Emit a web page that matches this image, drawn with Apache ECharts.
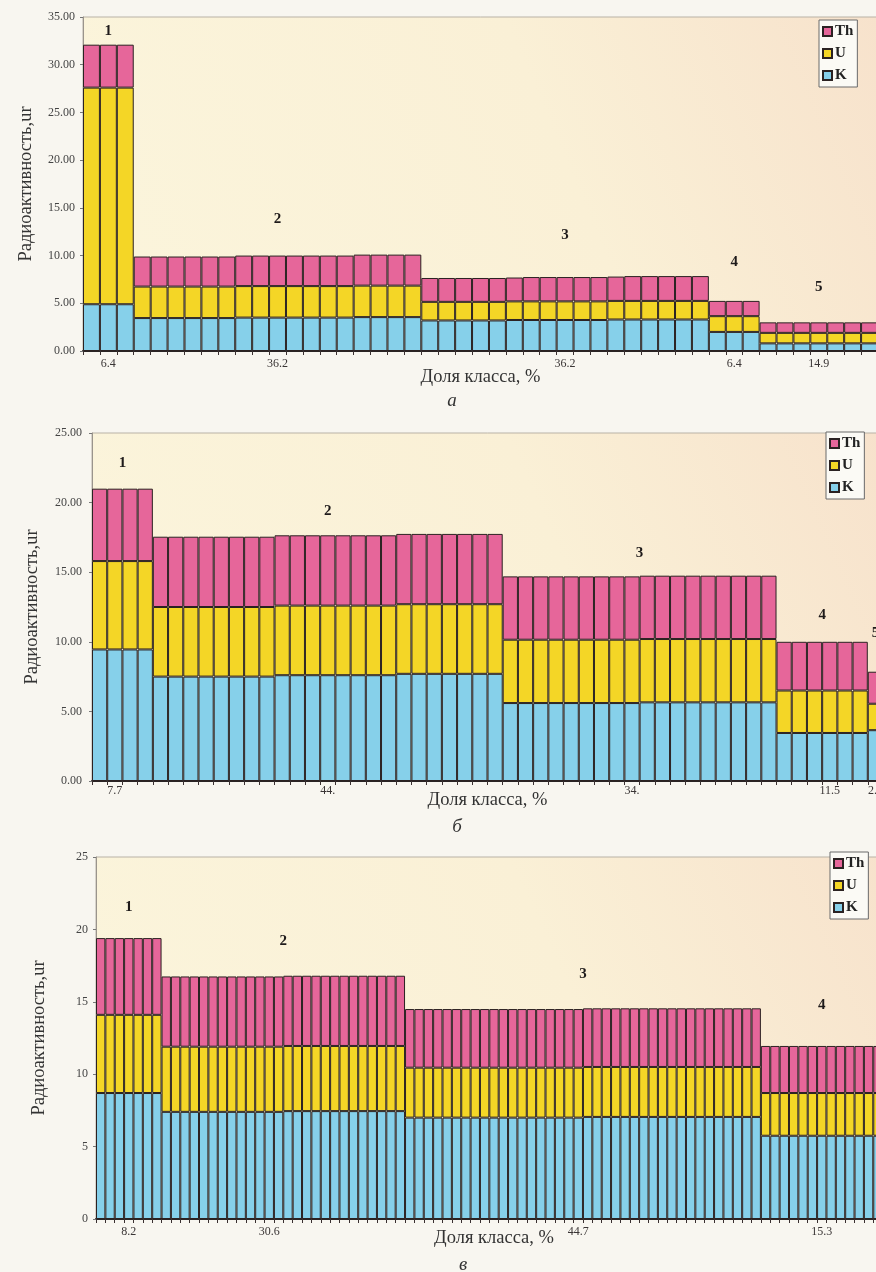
<!DOCTYPE html>
<html><head><meta charset="utf-8">
<script src="https://cdn.jsdelivr.net/npm/echarts@6/dist/echarts.min.js"></script>
<style>
html,body{margin:0;padding:0;background:#f8f6f0;overflow:hidden;width:876px;height:1272px}
#chart{width:900px;height:1272px}
</style></head>
<body><div id="chart"></div>
<script>
// ---------- DATA ----------
const seriesNames = ['Th', 'U', 'K'];
const yAxisTitle = 'Радиоактивность,ur';
const xAxisTitle = 'Доля класса, %';

// Panel а
const classesA = ['1', '2', '3', '4', '5'];
const countsA = [3, 17, 17, 3, 7];
const shareLabelsA = ['6.4', '36.2', '36.2', '6.4', '14.9'];
const shareLabelAtA = [1, 8, 8, 1, 3];
const kA = [4.9,4.9,4.9,
  3.45,3.45,3.45,3.45,3.45,3.45,3.5,3.5,3.5,3.5,3.5,3.5,3.5,3.55,3.55,3.55,3.55,
  3.2,3.2,3.2,3.2,3.2,3.25,3.25,3.25,3.25,3.25,3.25,3.3,3.3,3.3,3.3,3.3,3.3,
  2.0,2.0,2.0,
  0.8,0.8,0.8,0.8,0.8,0.8,0.8];
const uA = [22.7,22.7,22.7,
  3.3,3.3,3.3,3.3,3.3,3.3,3.3,3.3,3.3,3.3,3.3,3.3,3.3,3.3,3.3,3.3,3.3,
  1.95,1.95,1.95,1.95,1.95,1.95,1.95,1.95,1.95,1.95,1.95,1.95,1.95,1.95,1.95,1.95,1.95,
  1.65,1.65,1.65,
  1.1,1.1,1.1,1.1,1.1,1.1,1.1];
const thA = [4.5,4.5,4.5,
  3.15,3.15,3.15,3.15,3.15,3.15,3.2,3.2,3.2,3.2,3.2,3.2,3.2,3.25,3.25,3.25,3.25,
  2.5,2.5,2.5,2.5,2.5,2.5,2.55,2.55,2.55,2.55,2.55,2.55,2.6,2.6,2.6,2.6,2.6,
  1.6,1.6,1.6,
  1.1,1.1,1.1,1.1,1.1,1.1,1.1];

// Panel б
const classesB = ['1', '2', '3', '4', '5'];
const countsB = [4, 23, 18, 6, 1];
const shareLabelsB = ['7.7', '44.', '34.', '11.5', '2.1'];
const shareLabelAtB = [1, 11, 8, 3, 0];
const kB = [9.45,9.45,9.45,9.45,
  7.5,7.5,7.5,7.5,7.5,7.5,7.5,7.5,7.6,7.6,7.6,7.6,7.6,7.6,7.6,7.6,7.7,7.7,7.7,7.7,7.7,7.7,7.7,
  5.6,5.6,5.6,5.6,5.6,5.6,5.6,5.6,5.6,5.65,5.65,5.65,5.65,5.65,5.65,5.65,5.65,5.65,
  3.45,3.45,3.45,3.45,3.45,3.45,
  3.65];
const uB = [6.35,6.35,6.35,6.35,
  5.0,5.0,5.0,5.0,5.0,5.0,5.0,5.0,5.0,5.0,5.0,5.0,5.0,5.0,5.0,5.0,5.0,5.0,5.0,5.0,5.0,5.0,5.0,
  4.55,4.55,4.55,4.55,4.55,4.55,4.55,4.55,4.55,4.55,4.55,4.55,4.55,4.55,4.55,4.55,4.55,4.55,
  3.05,3.05,3.05,3.05,3.05,3.05,
  1.9];
const thB = [5.2,5.2,5.2,5.2,
  5.05,5.05,5.05,5.05,5.05,5.05,5.05,5.05,5.05,5.05,5.05,5.05,5.05,5.05,5.05,5.05,5.05,5.05,5.05,5.05,5.05,5.05,5.05,
  4.55,4.55,4.55,4.55,4.55,4.55,4.55,4.55,4.55,4.55,4.55,4.55,4.55,4.55,4.55,4.55,4.55,4.55,
  3.5,3.5,3.5,3.5,3.5,3.5,
  2.3];

// Panel в
const classesC = ['1', '2', '3', '4', '5'];
const countsC = [7, 26, 38, 13, 1];
const shareLabelsC = ['8.2', '30.6', '44.7', '15.3', '1.2'];
const shareLabelAtC = [3, 11, 18, 6, 0];
const kC = [8.7,8.7,8.7,8.7,8.7,8.7,8.7,
  7.4,7.4,7.4,7.4,7.4,7.4,7.4,7.4,7.4,7.4,7.4,7.4,7.4,
  7.45,7.45,7.45,7.45,7.45,7.45,7.45,7.45,7.45,7.45,7.45,7.45,7.45,
  7.0,7.0,7.0,7.0,7.0,7.0,7.0,7.0,7.0,7.0,7.0,7.0,7.0,7.0,7.0,7.0,7.0,7.0,7.0,
  7.05,7.05,7.05,7.05,7.05,7.05,7.05,7.05,7.05,7.05,7.05,7.05,7.05,7.05,7.05,7.05,7.05,7.05,7.05,
  5.75,5.75,5.75,5.75,5.75,5.75,5.75,5.75,5.75,5.75,5.75,5.75,5.75,
  5.0];
const uC = [5.4,5.4,5.4,5.4,5.4,5.4,5.4,
  4.5,4.5,4.5,4.5,4.5,4.5,4.5,4.5,4.5,4.5,4.5,4.5,4.5,
  4.5,4.5,4.5,4.5,4.5,4.5,4.5,4.5,4.5,4.5,4.5,4.5,4.5,
  3.45,3.45,3.45,3.45,3.45,3.45,3.45,3.45,3.45,3.45,3.45,3.45,3.45,3.45,3.45,3.45,3.45,3.45,3.45,
  3.45,3.45,3.45,3.45,3.45,3.45,3.45,3.45,3.45,3.45,3.45,3.45,3.45,3.45,3.45,3.45,3.45,3.45,3.45,
  2.95,2.95,2.95,2.95,2.95,2.95,2.95,2.95,2.95,2.95,2.95,2.95,2.95,
  2.2];
const thC = [5.3,5.3,5.3,5.3,5.3,5.3,5.3,
  4.85,4.85,4.85,4.85,4.85,4.85,4.85,4.85,4.85,4.85,4.85,4.85,4.85,
  4.85,4.85,4.85,4.85,4.85,4.85,4.85,4.85,4.85,4.85,4.85,4.85,4.85,
  4.05,4.05,4.05,4.05,4.05,4.05,4.05,4.05,4.05,4.05,4.05,4.05,4.05,4.05,4.05,4.05,4.05,4.05,4.05,
  4.05,4.05,4.05,4.05,4.05,4.05,4.05,4.05,4.05,4.05,4.05,4.05,4.05,4.05,4.05,4.05,4.05,4.05,4.05,
  3.25,3.25,3.25,3.25,3.25,3.25,3.25,3.25,3.25,3.25,3.25,3.25,3.25,
  2.4];

// ---------- LAYOUT / STYLE ----------
const SERIF = '"Liberation Serif","DejaVu Serif",serif';
const colors = { Th: '#e6669a', U: '#f4d626', K: '#86d0ea' };
const layouts = [
  { grid: {left: 83, top: 17, width: 795, height: 334}, max: 35, dec: 2,
    legend: {left: 819, top: 20}, xLabelMargin: 7, xNameGap: 17, yLabelMargin: 8, yNameGap: 47,
    classLabelLevels: [33.5, 13.8, 12.1, 9.3, 6.7], caption: 'а', captionPos: [452, 401] },
  { grid: {left: 92, top: 433, width: 791, height: 348}, max: 25, dec: 2,
    legend: {left: 826, top: 432}, xLabelMargin: 4, xNameGap: 10, yLabelMargin: 10, yNameGap: 50,
    classLabelLevels: [22.85, 19.4, 16.4, 11.9, 10.6], caption: 'б', captionPos: [457, 827] },
  { grid: {left: 96, top: 857, width: 796, height: 362}, max: 25, dec: 0,
    legend: {left: 830, top: 852}, xLabelMargin: 7, xNameGap: 10, yLabelMargin: 8, yNameGap: 47,
    classLabelLevels: [21.55, 19.2, 16.9, 14.75, 13.1], caption: 'в', captionPos: [463, 1265] }
];

const panels = [
  { classes: classesA, counts: countsA, labels: shareLabelsA, at: shareLabelAtA, K: kA, U: uA, Th: thA },
  { classes: classesB, counts: countsB, labels: shareLabelsB, at: shareLabelAtB, K: kB, U: uB, Th: thB },
  { classes: classesC, counts: countsC, labels: shareLabelsC, at: shareLabelAtC, K: kC, U: uC, Th: thC }
];

// ---------- BUILD ----------
const grids = [], xAxes = [], yAxes = [], series = [], legends = [], graphics = [];
const plotBg = { type: 'linear', x: 0, y: 1, x2: 1, y2: 0,
  colorStops: [{offset: 0, color: '#fbf5dc'}, {offset: 0.6, color: '#faf0d6'}, {offset: 1, color: '#f7e2cc'}] };

panels.forEach((p, i) => {
  const L = layouts[i];
  const cats = [], labelMap = {}, centers = [];
  let s = 0;
  p.counts.forEach((n, c) => {
    labelMap[s + p.at[c]] = p.labels[c];
    centers.push(s + n / 2);
    for (let j = 0; j < n; j++) cats.push('s' + (s + j));
    s += n;
  });
  const total = s;

  grids.push(Object.assign({ show: true, backgroundColor: plotBg, borderColor: '#b9b2a6', borderWidth: 1 }, L.grid));

  xAxes.push({
    type: 'category', gridIndex: i, data: cats, boundaryGap: true,
    axisLine: { lineStyle: { color: '#2a2424', width: 2 } },
    axisTick: { show: true, interval: 0, length: 4, lineStyle: { color: '#3a3030' } },
    axisLabel: { interval: 0, margin: L.xLabelMargin, fontFamily: SERIF, fontSize: 12, color: '#3a3535',
      formatter: (v, idx) => labelMap[idx] || '' },
    name: xAxisTitle, nameLocation: 'middle', nameGap: L.xNameGap, nameMoveOverlap: false,
    nameTextStyle: { fontFamily: SERIF, fontSize: 18.5, color: '#333' }
  });
  // hidden numeric axis for class numbers
  xAxes.push({ type: 'value', gridIndex: i, min: 0, max: total, show: false });

  yAxes.push({
    type: 'value', gridIndex: i, min: 0, max: L.max, interval: 5,
    axisLine: { show: true, lineStyle: { color: '#9a948c', width: 1 } },
    axisTick: { show: true, length: 3, lineStyle: { color: '#777' } },
    splitLine: { show: false },
    axisLabel: { margin: L.yLabelMargin, fontFamily: SERIF, fontSize: 12, color: '#444',
      formatter: v => v.toFixed(L.dec) },
    name: yAxisTitle, nameLocation: 'middle', nameGap: L.yNameGap, nameMoveOverlap: false,
    nameTextStyle: { fontFamily: SERIF, fontSize: 18.5, color: '#333' }
  });

  ['K', 'U', 'Th'].forEach(name => {
    series.push({
      type: 'bar', name: name, stack: 'st' + i, xAxisIndex: i * 2, yAxisIndex: i,
      data: p[name], barCategoryGap: '0%', barGap: '0%',
      itemStyle: { color: colors[name], borderColor: '#2b2222', borderWidth: 1 },
      emphasis: { disabled: true }
    });
  });

  series.push({
    type: 'scatter', name: 'classes' + i, xAxisIndex: i * 2 + 1, yAxisIndex: i,
    symbol: 'circle', symbolSize: 1, silent: true,
    itemStyle: { opacity: 0 },
    data: p.classes.map((c, k) => [centers[k], L.classLabelLevels[k]]),
    label: { show: true, position: 'inside', opacity: 1, fontFamily: SERIF, fontWeight: 'bold', fontSize: 15,
      color: '#1e1a1a', textBorderWidth: 0, textBorderColor: 'transparent',
      formatter: prm => p.classes[prm.dataIndex] }
  });

  legends.push({
    data: seriesNames, orient: 'vertical', left: L.legend.left, top: L.legend.top,
    icon: 'rect', itemWidth: 9, itemHeight: 9, itemGap: 7,
    padding: [4, 4, 4, 3], backgroundColor: '#fbfaf5', borderColor: '#6a6a6a', borderWidth: 1,
    selectedMode: false,
    textStyle: { fontFamily: SERIF, fontWeight: 'bold', fontSize: 15, color: '#222', padding: [0, 0, 0, -2] }
  });

  graphics.push({ type: 'text', x: L.captionPos[0], y: L.captionPos[1],
    style: { text: L.caption, fontFamily: SERIF, fontStyle: 'italic', fontSize: 19, fill: '#333',
      align: 'center', verticalAlign: 'middle' } });
});

const chart = echarts.init(document.getElementById('chart'), null, { renderer: 'canvas' });
chart.setOption({
  animation: false,
  backgroundColor: '#f8f6f0',
  grid: grids, xAxis: xAxes, yAxis: yAxes, series: series, legend: legends, graphic: graphics
});
</script>
</body></html>
